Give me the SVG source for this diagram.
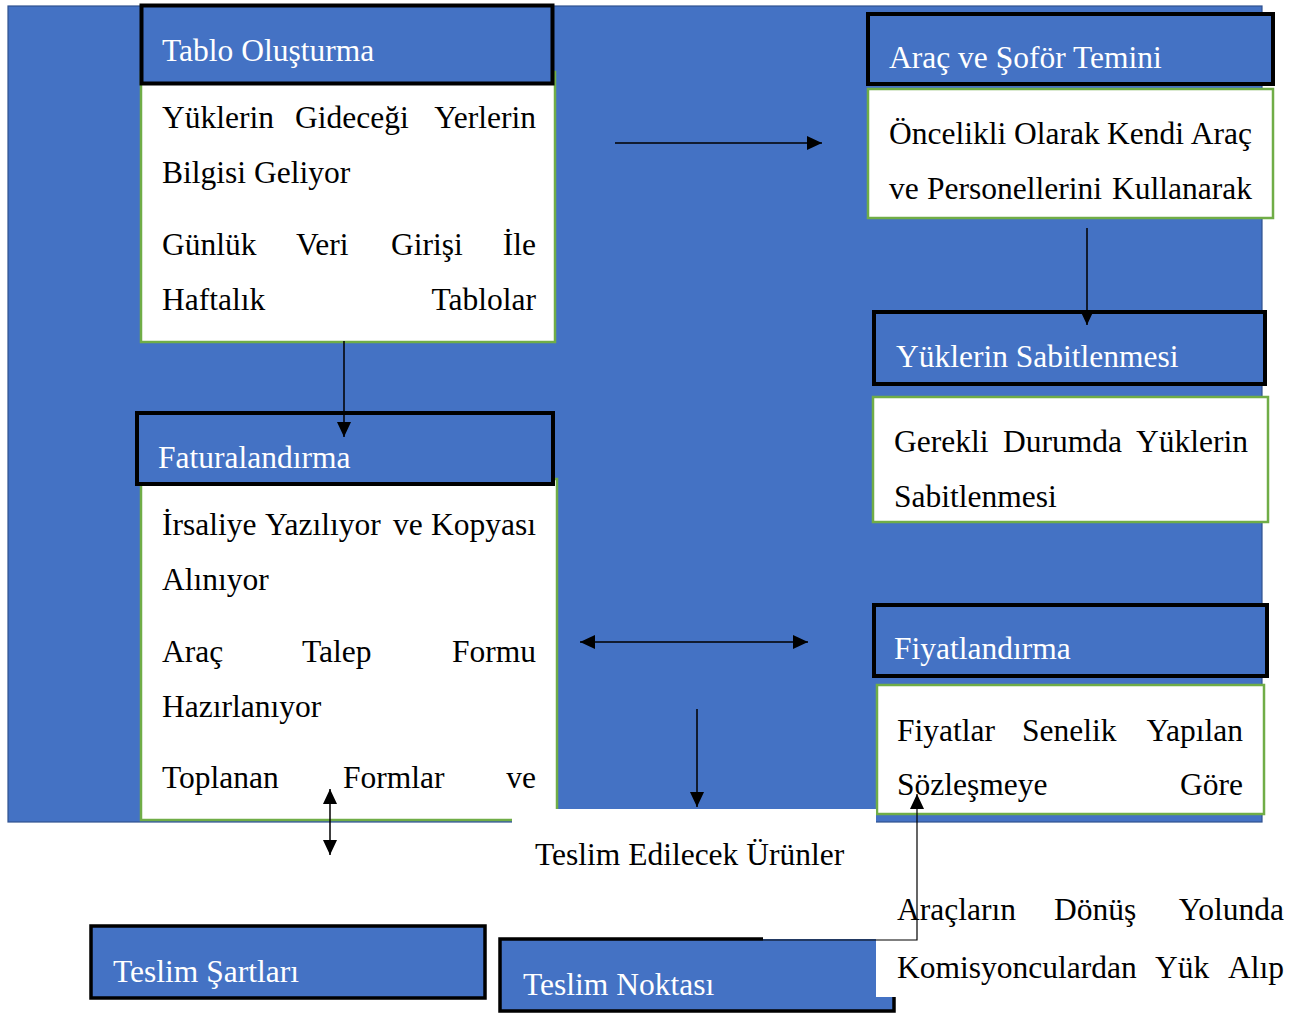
<svg xmlns="http://www.w3.org/2000/svg" width="1295" height="1015" viewBox="0 0 1295 1015">
<style>
.hdr{fill:#4472C4;stroke:#000;stroke-width:4}
.box{fill:#4472C4;stroke:#000;stroke-width:3.5}
.body{fill:#fff;stroke:#70AD47;stroke-width:2.5}
text{font-family:"Liberation Serif","Times New Roman",serif;font-size:31.5px}
.ht{fill:#fff}
.bt{fill:#000}
.e{text-anchor:end}
.con{fill:none;stroke:#000;stroke-width:1.5}
.thin{fill:none;stroke:#000;stroke-width:1.2}
</style>
<defs>
<marker id="ah" markerUnits="userSpaceOnUse" markerWidth="16" markerHeight="15" refX="15" refY="7" orient="auto-start-reverse">
<path d="M0,0 L15,7 L0,14 z" fill="#000"/>
</marker>
</defs>
<rect width="1295" height="1015" fill="#fff"/>
<rect id="background" x="8" y="6" width="1254" height="816" fill="#4472C4" stroke="#2F528F" stroke-width="1.2"/>

<g id="tablo">
<rect class="body" x="141" y="72" width="414" height="270"/>
<rect class="hdr" x="141.5" y="5.5" width="411" height="78"/>
<text class="ht" x="162" y="61">Tablo Oluşturma</text>
<text class="bt" x="162" y="128">Yüklerin</text>
<text class="bt" x="295" y="128">Gideceği</text>
<text class="bt e" x="536" y="128">Yerlerin</text>
<text class="bt" x="162" y="183">Bilgisi Geliyor</text>
<text class="bt" x="162" y="255">Günlük</text>
<text class="bt" x="296" y="255">Veri</text>
<text class="bt" x="391" y="255">Girişi</text>
<text class="bt e" x="536" y="255">İle</text>
<text class="bt" x="162" y="310">Haftalık</text>
<text class="bt e" x="536" y="310">Tablolar</text>
</g>

<g id="arac">
<rect class="body" x="868" y="89" width="405" height="129"/>
<rect class="hdr" x="868" y="14" width="405" height="70"/>
<text class="ht" x="889" y="68">Araç ve Şoför Temini</text>
<text class="bt" x="889" y="144">Öncelikli</text>
<text class="bt" x="1014" y="144">Olarak</text>
<text class="bt" x="1107" y="144">Kendi</text>
<text class="bt e" x="1252" y="144">Araç</text>
<text class="bt" x="889" y="199">ve</text>
<text class="bt" x="927" y="199">Personellerini</text>
<text class="bt e" x="1252" y="199">Kullanarak</text>
</g>

<g id="yuk">
<rect class="body" x="873" y="397" width="395" height="125"/>
<rect class="hdr" x="874" y="312" width="391" height="72"/>
<text class="ht" x="896" y="367">Yüklerin Sabitlenmesi</text>
<text class="bt" x="894" y="452">Gerekli</text>
<text class="bt" x="1003" y="452">Durumda</text>
<text class="bt e" x="1248" y="452">Yüklerin</text>
<text class="bt" x="894" y="507">Sabitlenmesi</text>
</g>

<g id="fatura">
<rect class="body" x="141" y="479" width="416" height="341"/>
<rect class="hdr" x="137" y="413" width="416" height="71"/>
<text class="ht" x="158" y="468">Faturalandırma</text>
<text class="bt" x="162" y="535">İrsaliye</text>
<text class="bt" x="265" y="535">Yazılıyor</text>
<text class="bt" x="393" y="535">ve</text>
<text class="bt e" x="536" y="535">Kopyası</text>
<text class="bt" x="162" y="590">Alınıyor</text>
<text class="bt" x="162" y="662">Araç</text>
<text class="bt" x="302" y="662">Talep</text>
<text class="bt e" x="536" y="662">Formu</text>
<text class="bt" x="162" y="717">Hazırlanıyor</text>
<text class="bt" x="162" y="788">Toplanan</text>
<text class="bt" x="343" y="788">Formlar</text>
<text class="bt e" x="536" y="788">ve</text>
</g>

<g id="fiyat">
<rect class="body" x="877" y="685" width="387" height="129"/>
<rect class="hdr" x="874" y="605" width="393" height="71"/>
<text class="ht" x="894" y="659">Fiyatlandırma</text>
<text class="bt" x="897" y="741">Fiyatlar</text>
<text class="bt" x="1022" y="741">Senelik</text>
<text class="bt e" x="1243" y="741">Yapılan</text>
<text class="bt" x="897" y="795">Sözleşmeye</text>
<text class="bt e" x="1243" y="795">Göre</text>
</g>

<g id="teslim-edilecek">
<rect x="512" y="809" width="364" height="128" fill="#fff"/>
<text class="bt" x="535" y="865">Teslim Edilecek Ürünler</text>
</g>

<g id="teslim-sartlari">
<rect class="box" x="91" y="926" width="394" height="72"/>
<text class="ht" x="113" y="982">Teslim Şartları</text>
</g>

<g id="teslim-noktasi">
<rect x="500" y="939" width="394" height="72" fill="#4472C4"/>
<path d="M763,939 H500 V1011 H894 V939" fill="none" stroke="#000" stroke-width="3.5"/>
<rect x="876" y="880" width="419" height="117" fill="#fff"/>
<text class="ht" x="523" y="995">Teslim Noktası</text>
</g>

<g id="araclarin">
<text class="bt" x="897" y="920">Araçların</text>
<text class="bt" x="1054" y="920">Dönüş</text>
<text class="bt e" x="1284" y="920">Yolunda</text>
<text class="bt" x="897" y="978">Komisyonculardan</text>
<text class="bt" x="1155" y="978">Yük</text>
<text class="bt e" x="1284" y="978">Alıp</text>
</g>

<g id="connectors">
<line class="con" x1="615" y1="143" x2="822" y2="143" marker-end="url(#ah)"/>
<line class="con" x1="1087" y1="228" x2="1087" y2="325" marker-end="url(#ah)"/>
<line class="con" x1="344" y1="341" x2="344" y2="437" marker-end="url(#ah)"/>
<line class="con" x1="330" y1="789" x2="330" y2="855" marker-start="url(#ah)" marker-end="url(#ah)"/>
<line class="con" x1="580" y1="642" x2="808" y2="642" marker-start="url(#ah)" marker-end="url(#ah)"/>
<line class="con" x1="697" y1="709" x2="697" y2="807" marker-end="url(#ah)"/>
<polyline class="thin" points="763,940 917,940 917,794" marker-end="url(#ah)"/>
</g>
</svg>
